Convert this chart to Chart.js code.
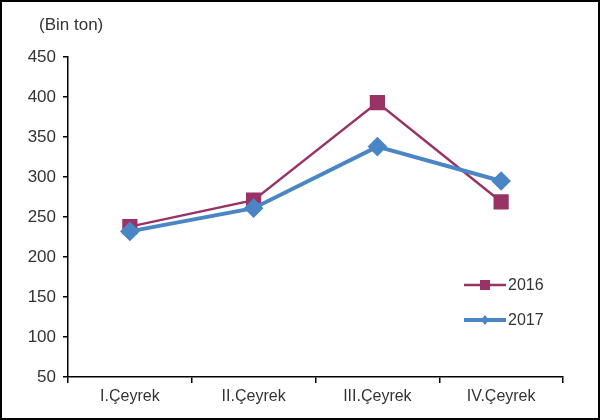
<!DOCTYPE html>
<html><head><meta charset="utf-8">
<script src="https://cdn.jsdelivr.net/npm/chart.js@4/dist/chart.umd.min.js"></script>
<style>
html,body{margin:0;padding:0;background:#fff;}
#wrap{width:600px;height:420px;box-sizing:border-box;border:2px solid #000;position:relative;}
</style></head>
<body><div id="wrap"><canvas id="c" width="596" height="416"></canvas></div>
<script>
const categories = ["I.Çeyrek", "II.Çeyrek", "III.Çeyrek", "IV.Çeyrek"];
const series2016 = [238, 271, 393, 269];
const series2017 = [232, 261, 338, 295];
const seriesNames = ["2016", "2017"];
const yTicks = [50, 100, 150, 200, 250, 300, 350, 400, 450];
const unitLabel = "(Bin ton)";

const FONT = "'Liberation Sans', Arial, sans-serif";
const TXT = '#333';

const legendPlugin = {
  id: 'sideLegend',
  afterDraw(chart) {
    const ctx = chart.ctx;
    const ys = [283, 318];
    ctx.save();
    chart.data.datasets.forEach((ds, i) => {
      const y = ys[i];
      ctx.strokeStyle = ds.borderColor;
      ctx.lineWidth = ds.borderWidth;
      ctx.beginPath(); ctx.moveTo(462, y); ctx.lineTo(504, y); ctx.stroke();
      ctx.fillStyle = ds.backgroundColor;
      if (ds.pointStyle === 'rect') {
        ctx.fillRect(483 - 5, y - 5, 10, 10);
      } else {
        ctx.beginPath(); ctx.moveTo(483, y - 5); ctx.lineTo(487, y); ctx.lineTo(483, y + 5); ctx.lineTo(479, y); ctx.closePath(); ctx.fill();
      }
      ctx.fillStyle = TXT;
      ctx.font = "16px " + FONT;
      ctx.textBaseline = 'middle';
      ctx.textAlign = 'left';
      ctx.fillText(ds.label, 506, y + 1);
    });
    ctx.font = "17px " + FONT;
    ctx.textBaseline = 'middle';
    ctx.textAlign = 'left';
    ctx.fillStyle = TXT;
    ctx.fillText(unitLabel, 37, 23);
    ctx.restore();
  }
};

new Chart(document.getElementById('c'), {
  type: 'line',
  data: {
    labels: categories,
    datasets: [
      { label: seriesNames[0], data: series2016, borderColor: '#993366', backgroundColor: '#993366', order: 1,
        borderWidth: 2.5, pointStyle: 'rect', pointRadius: 9, pointHoverRadius: 9, tension: 0 },
      { label: seriesNames[1], data: series2017, borderColor: '#4a86c6', backgroundColor: '#4a86c6', order: 0,
        borderWidth: 4, pointStyle: 'rectRot', pointRadius: 7, pointHoverRadius: 7, tension: 0 }
    ]
  },
  options: {
    responsive: false, animation: false,
    layout: { padding: { top: 55, right: 35, left: 0, bottom: 0 } },
    plugins: { legend: { display: false }, tooltip: { enabled: false } },
    scales: {
      x: {
        offset: true,
        grid: { display: true, offset: true, drawOnChartArea: false, drawTicks: true, tickLength: 6, color: '#000', lineWidth: 1.5 },
        border: { display: true, color: '#000', width: 1.5 },
        ticks: { color: TXT, font: { family: FONT, size: 16 }, padding: 4, maxRotation: 0 },
        afterFit(s) { s.height = 41; }
      },
      y: {
        min: 50, max: 450,
        afterBuildTicks(s) { s.ticks = yTicks.map(v => ({ value: v })); },
        grid: { display: true, drawOnChartArea: false, drawTicks: true, tickLength: 5, color: '#000', lineWidth: 1.5 },
        border: { display: true, color: '#000', width: 1.5 },
        ticks: { color: TXT, font: { family: FONT, size: 17 }, padding: 7 },
        afterFit(s) { s.width = 66; }
      }
    }
  },
  plugins: [legendPlugin]
});
</script></body></html>
